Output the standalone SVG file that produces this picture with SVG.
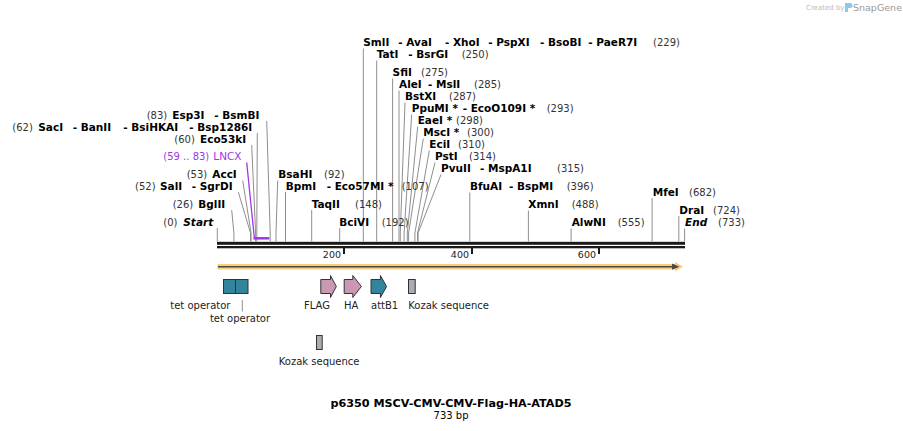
<svg xmlns="http://www.w3.org/2000/svg" width="903" height="431" viewBox="0 0 903 431">
<style>
text{font-family:"DejaVu Sans","Liberation Sans",sans-serif;fill:#000}
.n{font-size:10.5px;font-weight:bold}
.i{font-style:italic}
.p{font-size:10px;fill:#333}
.f{font-size:10px;fill:#222}
.lnc{fill:#a036e8}
.ln{stroke:#8f8f8f;stroke-width:1;fill:none}
.fb{stroke:#333;stroke-width:1}
.teal{fill:#31849b}
.pink{fill:#cb98b3}
.gray{fill:#a9aeb5}
</style>

<g id="watermark">
<text x="806" y="10" style="font-size:7px;fill:#bbb">Created by</text>
<path d="M845,3 h5 a2.5,2.5 0 0 1 0,5 h-2 v4 h-3 z" fill="#8ec9ec"/>
<text x="853" y="11" style="font-size:9.5px;fill:#9a9a9a">SnapGene</text>
</g>

<g id="backbone">
<rect x="217" y="241.8" width="468" height="3" fill="#1a1a1a"/>
<rect x="217" y="246" width="468" height="2.3" fill="#1a1a1a"/>
<rect x="343" y="248" width="2" height="6" fill="#1a1a1a"/>
<rect x="471" y="248" width="2" height="6" fill="#1a1a1a"/>
<rect x="598" y="248" width="2" height="6" fill="#1a1a1a"/>
<text x="341" y="257.5" text-anchor="end" style="font-size:9.5px;fill:#222">200</text>
<text x="469" y="257.5" text-anchor="end" style="font-size:9.5px;fill:#222">400</text>
<text x="596" y="257.5" text-anchor="end" style="font-size:9.5px;fill:#222">600</text>
</g>

<g id="orf-arrow">
<path d="M217.5,264 H675 V261.8 L683,266.7 L675,271.6 V269.4 H217.5 Z" fill="#fbcb80"/>
<line x1="218" y1="266.7" x2="674" y2="266.7" stroke="#4a4a45" stroke-width="1.6"/>
<path d="M672,263.6 L679.5,266.7 L672,269.8 Z" fill="#4a4a45"/>
</g>

<g id="connectors">
<line class="ln" x1="217.3" y1="228" x2="217.3" y2="241.5"/>
<polyline class="ln" points="231.7,210 233.9,233 233.9,241.5"/>
<polyline class="ln" points="238.3,192 250.5,233 250.5,241.5"/>
<polyline class="ln" points="242.7,180.5 251.1,233 251.1,241.5"/>
<polyline class="ln" points="251.7,145 255.6,233 255.6,241.5"/>
<polyline class="ln" points="257.3,133 256.8,233 256.8,241.5"/>
<polyline class="ln" points="266.7,121 270.2,233 270.2,241.5"/>
<polyline class="ln" points="277.7,180.5 276,233 276,241.5"/>
<line class="ln" x1="285.5" y1="192" x2="285.5" y2="241.5"/>
<line class="ln" x1="311.7" y1="210" x2="311.7" y2="241.5"/>
<line class="ln" x1="339.7" y1="228" x2="339.7" y2="241.5"/>
<line class="ln" x1="363.3" y1="48.5" x2="363.3" y2="241.5"/>
<line class="ln" x1="376.7" y1="60.5" x2="376.7" y2="241.5"/>
<line class="ln" x1="392.6" y1="78.5" x2="392.6" y2="241.5"/>
<line class="ln" x1="399" y1="90.5" x2="399" y2="241.5"/>
<polyline class="ln" points="405,102.5 400.3,233 400.3,241.5"/>
<polyline class="ln" points="411.7,114.5 404.1,233 404.1,241.5"/>
<polyline class="ln" points="417.7,126.5 407.3,233 407.3,241.5"/>
<polyline class="ln" points="423.3,138.5 408.6,233 408.6,241.5"/>
<polyline class="ln" points="429.3,150.5 414.9,233 414.9,241.5"/>
<polyline class="ln" points="435,162.5 417.5,233 417.5,241.5"/>
<polyline class="ln" points="441,174.5 418.1,233 418.1,241.5"/>
<line class="ln" x1="469.8" y1="192.5" x2="469.8" y2="241.5"/>
<line class="ln" x1="528.4" y1="210.5" x2="528.4" y2="241.5"/>
<line class="ln" x1="571.1" y1="228.5" x2="571.1" y2="241.5"/>
<line class="ln" x1="652.1" y1="198" x2="652.1" y2="241.5"/>
<line class="ln" x1="678.8" y1="216" x2="678.8" y2="241.5"/>
<line class="ln" x1="684.6" y1="228.5" x2="684.6" y2="241.5"/>
<polyline points="246.7,162.5 254.3,237.5" stroke="#a036e8" stroke-width="1.3" fill="none"/>
<line x1="253.5" y1="238.3" x2="269.3" y2="238.3" stroke="#a036e8" stroke-width="2.5"/>
<line x1="242.3" y1="300" x2="242.3" y2="311.5" stroke="#8f8f8f" stroke-width="1"/>
</g>

<g id="site-start"><text class="p" x="163.3" y="226">(0)</text><text class="n i" x="183.3" y="226">Start</text></g>
<g id="site-bglii"><text class="p" x="172.7" y="208">(26)</text><text class="n" x="198.3" y="208">BglII</text></g>
<g id="site-sali"><text class="p" x="135" y="190">(52)</text><text class="n" y="190"><tspan x="160">SalI</tspan><tspan x="191.7">- SgrDI</tspan></text></g>
<g id="site-acci"><text class="p" x="186.7" y="178">(53)</text><text class="n" x="212.3" y="178">AccI</text></g>
<g id="feature-lncx"><text class="p lnc" x="163.3" y="160">(59 .. 83)</text><text class="lnc" x="213.3" y="160" style="font-size:10.5px">LNCX</text></g>
<g id="site-eco53ki"><text class="p" x="174.3" y="143">(60)</text><text class="n" x="200" y="143">Eco53kI</text></g>
<g id="site-saci"><text class="p" x="12.3" y="131">(62)</text><text class="n" y="131"><tspan x="38.3">SacI</tspan><tspan x="72.7">- BanII</tspan><tspan x="123.3">- BsiHKAI</tspan><tspan x="189.3">- Bsp1286I</tspan></text></g>
<g id="site-esp3i"><text class="p" x="146.7" y="119">(83)</text><text class="n" y="119"><tspan x="172.3">Esp3I</tspan><tspan x="214.3">- BsmBI</tspan></text></g>
<g id="site-bsahi"><text class="n" x="278.3" y="178">BsaHI</text><text class="p" x="324" y="178">(92)</text></g>
<g id="site-bpmi"><text class="n" y="190"><tspan x="285.7">BpmI</tspan><tspan x="326.7">- Eco57MI *</tspan></text><text class="p" x="401.7" y="190">(107)</text></g>
<g id="site-taqii"><text class="n" x="311.7" y="208">TaqII</text><text class="p" x="355" y="208">(148)</text></g>
<g id="site-bcivi"><text class="n" x="339.3" y="226">BciVI</text><text class="p" x="381.7" y="226">(192)</text></g>
<g id="site-smli"><text class="n" y="46"><tspan x="363.3">SmlI</tspan><tspan x="398.3">- AvaI</tspan><tspan x="445">- XhoI</tspan><tspan x="488.3">- PspXI</tspan><tspan x="540">- BsoBI</tspan><tspan x="588.3">- PaeR7I</tspan></text><text class="p" x="653" y="46">(229)</text></g>
<g id="site-tati"><text class="n" y="58"><tspan x="376.7">TatI</tspan><tspan x="408.3">- BsrGI</tspan></text><text class="p" x="461.7" y="58">(250)</text></g>
<g id="site-sfii"><text class="n" x="392.6" y="76">SfiI</text><text class="p" x="421" y="76">(275)</text></g>
<g id="site-alei"><text class="n" y="88"><tspan x="399">AleI</tspan><tspan x="428">- MslI</tspan></text><text class="p" x="474" y="88">(285)</text></g>
<g id="site-bstxi"><text class="n" x="405" y="100">BstXI</text><text class="p" x="449" y="100">(287)</text></g>
<g id="site-ppumi"><text class="n" y="112"><tspan x="411.7">PpuMI *</tspan><tspan x="462.7">- EcoO109I *</tspan></text><text class="p" x="546.7" y="112">(293)</text></g>
<g id="site-eaei"><text class="n" x="417.7" y="124">EaeI *</text><text class="p" x="456" y="124">(298)</text></g>
<g id="site-msci"><text class="n" x="423.3" y="136">MscI *</text><text class="p" x="467" y="136">(300)</text></g>
<g id="site-ecii"><text class="n" x="429.3" y="148">EciI</text><text class="p" x="458" y="148">(310)</text></g>
<g id="site-psti"><text class="n" x="435" y="160">PstI</text><text class="p" x="469" y="160">(314)</text></g>
<g id="site-pvuii"><text class="n" y="172"><tspan x="441">PvuII</tspan><tspan x="480">- MspA1I</tspan></text><text class="p" x="557" y="172">(315)</text></g>
<g id="site-bfuai"><text class="n" y="190"><tspan x="470">BfuAI</tspan><tspan x="509">- BspMI</tspan></text><text class="p" x="566.7" y="190">(396)</text></g>
<g id="site-xmni"><text class="n" x="528.3" y="208">XmnI</text><text class="p" x="571.7" y="208">(488)</text></g>
<g id="site-alwni"><text class="n" x="571.7" y="226">AlwNI</text><text class="p" x="617.7" y="226">(555)</text></g>
<g id="site-mfei"><text class="n" x="652.7" y="196">MfeI</text><text class="p" x="689" y="196">(682)</text></g>
<g id="site-drai"><text class="n" x="679.3" y="214">DraI</text><text class="p" x="713" y="214">(724)</text></g>
<g id="site-end"><text class="n i" x="685" y="226">End</text><text class="p" x="718" y="226">(733)</text></g>

<g id="feature-tet-operator-1"><rect class="fb teal" x="223.5" y="279.5" width="12" height="14"/><text class="f" x="170.3" y="309">tet operator</text></g>
<g id="feature-tet-operator-2"><rect class="fb teal" x="235.5" y="279.5" width="12.5" height="14"/><text class="f" x="209.9" y="322">tet operator</text></g>
<g id="feature-flag"><path class="fb pink" d="M320.8,279.5 H330.5 V275.5 L336.3,286.5 L330.5,297.5 V293.5 H320.8 Z"/><text class="f" x="304" y="309">FLAG</text></g>
<g id="feature-ha"><path class="fb pink" d="M344.2,279.5 H352.8 V275.5 L361.4,286.5 L352.8,297.5 V293.5 H344.2 Z"/><text class="f" x="344" y="309">HA</text></g>
<g id="feature-attb1"><path class="fb teal" d="M371,279.5 H380.4 V275.5 L386.6,286.5 L380.4,297.5 V293.5 H371 Z"/><text class="f" x="371" y="309">attB1</text></g>
<g id="feature-kozak-1"><rect class="fb gray" x="408.5" y="279.5" width="6.7" height="14"/><text class="f" x="408.3" y="309">Kozak sequence</text></g>
<g id="feature-kozak-2"><rect class="fb gray" x="316.5" y="335.5" width="5.7" height="14"/><text class="f" x="278.8" y="365">Kozak sequence</text></g>

<g id="title">
<text x="451" y="406.5" text-anchor="middle" style="font-size:11.2px;font-weight:bold">p6350 MSCV-CMV-CMV-Flag-HA-ATAD5</text>
<text x="451" y="418.5" text-anchor="middle" style="font-size:10px">733 bp</text>
</g>
</svg>
